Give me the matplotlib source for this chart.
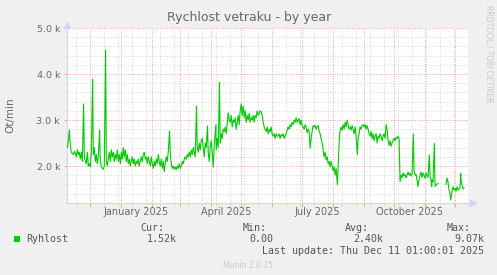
import numpy as np
import pandas as pd
import matplotlib
matplotlib.use('Agg')
import matplotlib.pyplot as plt
from matplotlib.patches import Rectangle

W, H = 497, 275

# days since 2024-11-08 and fan speed (Ot/min)
day = [0, 1, 2, 3, 4, 6, 7, 8, 9, 10, 11, 12, 13, 14, 15, 16.3, 17, 18, 19, 20,
       21, 22, 23, 24, 25.3, 26, 27, 28, 29, 30, 31, 32.3, 33, 34, 35, 36, 37, 38.3, 39, 40,
       41, 42, 43, 44, 45, 46, 47, 48, 49, 50, 51, 52, 53, 54, 55, 56, 57, 58, 59, 60,
       61, 62, 63, 64, 65, 66, 67, 68, 69, 70, 71, 72, 73, 74, 75, 76, 77, 78, 79, 80,
       81, 82, 83, 84, 85, 86, 87, 88, 89, 90, 91, 92, 93, 94, 95, 96, 97, 98, 99, 100,
       101, 102.3, 103, 104, 105, 106, 107, 108, 109, 110, 111, 112, 113, 114, 115, 116, 117, 118, 119, 120,
       121, 122, 123, 124, 125, 126, 127, 128, 129.3, 130, 131, 132, 133, 134, 135, 136, 137, 138, 139, 140.3,
       141, 142, 143, 144, 145, 146, 147, 148.7, 149, 150, 151, 152.3, 153, 154, 155, 156, 157, 158, 159, 160,
       161, 162, 163, 164, 165, 166, 167, 168, 169, 170, 171, 172, 173, 174, 175, 176, 177, 178, 179, 180,
       181, 182, 183, 184, 185, 186, 187, 188, 189, 190, 191, 192, 193, 194, 195, 196, 197, 198, 199, 200,
       201, 202, 203, 204, 205, 206, 207, 208, 209, 210, 211, 212, 213, 214, 215, 216, 217, 218, 219, 220,
       221, 222, 223, 224, 225, 226, 227, 228, 229, 230, 231, 232, 233, 234, 235, 236, 237, 238, 239, 240,
       241, 242, 243, 244, 245, 246, 247, 248, 249, 250, 251, 252, 253, 254, 255, 256, 257, 258, 259, 260,
       261, 262, 263, 264, 265, 266, 267, 268, 269, 270.3, 272.3, 273, 274, 275, 276, 277, 278, 279, 280,
       281, 282, 283, 284, 285, 286, 287, 288, 289, 290.3, 291, 292, 293, 294, 295, 296, 297, 298, 299, 300,
       301, 302, 303, 304, 305, 306, 307, 308, 309, 310, 311, 312, 313, 314, 315, 316, 317, 318, 319, 320,
       321, 322, 323, 324, 325, 326, 327, 328, 329, 330, 331, 332, 333, 334, 335, 336, 337, 338, 339, 340,
       341, 342, 343, 344, 345, 346.3, 347, 348, 349, 350, 351, 352, 353, 354, 355, 356, 357, 358, 359, 360,
       361, 362.3, 363, 364, 364.7, 365, 366, 367.3, 368, 369, 370, 371, 375,
       379, 380, 381, 382, 383, 383.7, 385, 386, 387, 388, 389, 390, 391, 392, 393, 393.7, 394, 395, 396, 397]
rpm = [2400, 2550, 2780, 2450, 2300, 2250, 2320, 2280, 2200, 2350, 2250, 2300, 2150, 2300, 2100, 3350, 2200, 2100, 2050, 2300,
       2000, 2050, 1980, 2300, 3890, 2250, 2400, 2100, 2250, 2050, 2200, 2780, 2100, 2000, 1950, 1930, 2000, 4520, 2100, 2000,
       2150, 2300, 2100, 2350, 2200, 2300, 2100, 2250, 2150, 2350, 2100, 2250, 2050, 2300, 2150, 2400, 2200, 2350, 2100, 2250,
       2050, 2150, 2000, 2100, 2200, 2050, 2150, 2000, 2100, 2050, 2150, 2000, 2100, 2200, 2100, 2250, 2300, 2150, 2200, 2050,
       2200, 2100, 2000, 2200, 2050, 1950, 2100, 2000, 2150, 2050, 2250, 2100, 2000, 2150, 1950, 2100, 1880, 2050, 2200, 2100,
       2300, 2760, 2300, 2050, 1950, 2000, 1930, 1980, 1920, 2000, 1950, 2050, 1950, 2000, 2100, 2050, 2150, 2200, 2150, 2250,
       2200, 2300, 2200, 2350, 2250, 2400, 2300, 2200, 3300, 2400, 2300, 2500, 2350, 2550, 2600, 2400, 2200, 2500, 2400, 2870,
       2300, 2100, 2400, 2550, 2300, 1970, 2450, 2900, 2350, 2600, 2400, 3820, 2500, 2700, 2600, 2800, 2750, 2850, 2700, 2900,
       3160, 3000, 2950, 3100, 2850, 3000, 2950, 3050, 2800, 2940, 3100, 2900, 3200, 3350, 3100, 3300, 3050, 3200, 2950, 3100,
       3000, 3150, 2950, 3050, 3000, 3100, 2950, 3100, 3050, 3200, 3100, 3150, 3200, 3180, 3100, 2950, 2850, 2800, 2750, 2850,
       2700, 2800, 2750, 2850, 2700, 2650, 2700, 2600, 2700, 2650, 2650, 2700, 2600, 2680, 2650, 2700, 2600, 2650, 2700, 2780,
       2850, 2800, 2900, 2850, 2950, 2900, 3000, 2950, 3050, 2950, 3000, 3030, 2900, 3000, 2880, 2850, 2800, 2900, 2850, 2720,
       2800, 2750, 2390, 2600, 2750, 2880, 2850, 2880, 2800, 2850, 2880, 2770, 2700, 2600, 2500, 2350, 2200, 2300, 2130, 2200,
       2050, 2100, 1980, 2100, 2000, 1900, 1980, 1800, 1950, 1590, 2630, 2750, 2850, 2780, 2900, 2800, 2950, 2850, 3000,
       2900, 2800, 2850, 2780, 2880, 2800, 2700, 2850, 2650, 2250, 2600, 2700, 2850, 2800, 2880, 2900, 2850, 2900, 2800, 2880,
       2800, 2700, 2650, 2750, 2600, 2700, 2550, 2650, 2700, 2500, 2650, 2600, 2700, 2650, 2550, 2650, 2700, 2600, 2900, 2800,
       2550, 2450, 2550, 2430, 2500, 2550, 2600, 2550, 2620, 2600, 2650, 2600, 1660, 1800, 1750, 1850, 1780, 1820, 1740, 1800,
       1870, 1800, 1850, 1780, 1830, 2690, 1900, 1800, 1820, 1700, 1550, 1700, 1800, 1870, 1750, 1850, 1800, 1730, 1850, 1800,
       1750, 2240, 1800, 1680, 1550, 1700, 1650, 2490, 1560, 1580, 1610, 1620, np.nan,
       1600, 1740, 1650, 1480, 1400, 1260, 1450, 1550, 1480, 1520, 1450, 1550, 1480, 1500, 1520, 1840, 1700, 1600, 1500, 1520]

month_labels = ['January 2025', 'April 2025', 'July 2025', 'October 2025']
label_dates = ['2025-01-16', '2025-04-16', '2025-07-16', '2025-10-16']
ytick_vals = [2000, 3000, 4000, 5000]
ytick_text = ['2.0 k', '3.0 k', '4.0 k', '5.0 k']
series_name = 'Ryhlost'
stat_heads = ['Cur:', 'Min:', 'Avg:', 'Max:']
stat_vals = ['1.52k', '0.00', '2.40k', '9.07k']

dates = pd.Timestamp('2024-11-08') + pd.to_timedelta(day, unit='D')
x_start = pd.Timestamp('2024-11-07 16:00')
x_end = x_start + pd.Timedelta(days=401)

txt = '#666666'
axis_col = '#CFD6F8'

fig = plt.figure(figsize=(W / 100, H / 100), dpi=100, facecolor='#F0F0F0')
ax = fig.add_axes([67 / W, 1 - 203 / H, 401 / W, 175 / H], facecolor='white')

ax.plot(dates, rpm, color='#00CC00', lw=0.8, zorder=3)
ax.set_xlim(x_start, x_end)
ax.set_ylim(1196, 5000)

# grid: months red, two weeks gray
ax.set_xticks(pd.date_range('2024-12-01', '2025-12-01', freq='MS'))
ax.set_xticks(pd.date_range('2024-11-17', '2025-12-14', freq='14D'), minor=True)
ax.set_yticks(ytick_vals)
ax.set_yticks(np.arange(1200, 5000, 200), minor=True)
ax.set_yticklabels(ytick_text)
ax.set_xticklabels([])
ax.grid(which='minor', color='#D8D8D8', lw=0.7, ls=(0, (1, 1.5)))
ax.grid(which='major', color='#F4A0A0', lw=0.7, ls=(0, (1, 1.5)))
ax.set_axisbelow(True)
ax.tick_params(axis='x', which='major', length=3, width=0.7, color='#F4A0A0')
ax.tick_params(axis='x', which='minor', length=2, width=0.7, color='#D8D8D8')
ax.tick_params(axis='y', which='major', length=2, width=0.7, color='#F4A0A0',
               labelsize=6.8, labelcolor=txt, pad=3)
ax.tick_params(axis='y', which='minor', length=0)

for s in ['top', 'right']:
    ax.spines[s].set_visible(False)
for s in ['left', 'bottom']:
    ax.spines[s].set_color(axis_col)
    ax.spines[s].set_linewidth(0.8)
ax.plot([1.012], [0], marker='>', ms=5, color=axis_col, transform=ax.transAxes, clip_on=False)
ax.plot([0], [1.02], marker='^', ms=5, color=axis_col, transform=ax.transAxes, clip_on=False)

for lab, d in zip(month_labels, label_dates):
    ax.text(pd.Timestamp(d), -0.05, lab, transform=ax.get_xaxis_transform(),
            ha='center', va='center', fontsize=7, color=txt)

def ftext(x, y, s, **kw):
    fig.text(x / W, 1 - y / H, s, **kw)

ftext(249, 18, 'Rychlost vetraku - by year', ha='center', va='center', fontsize=9, color=txt)
ftext(10.5, 115, 'Ot/min', ha='center', va='center', rotation=90, fontsize=7.5, color=txt)
ftext(488.5, 53.5, 'RRDTOOL / TOBI OETIKER', ha='center', va='center', rotation=270,
      fontsize=5.5, color='#C8C8C8')

mono = dict(family='DejaVu Sans Mono', fontsize=7.2, color='#555555', va='center')
fig.patches.append(Rectangle((14 / W, 1 - 242 / H), 6 / W, 6 / H, transform=fig.transFigure,
                             facecolor='#00CC00', edgecolor='none'))
ftext(26, 239.5, series_name, ha='left', **mono)
head_x = [140, 243, 345, 447]
val_right = [177, 273, 383, 484]
for hx, h, vr, v in zip(head_x, stat_heads, val_right, stat_vals):
    ftext(hx, 228, h, ha='left', **mono)
    ftext(vr, 239.5, v, ha='right', **mono)
ftext(484, 251, 'Last update: Thu Dec 11 01:00:01 2025', ha='right', **mono)
ftext(248, 265, 'Munin 2.0.75', ha='center', va='center', fontsize=5.5, color='#C8C8C8')

fig.savefig('out.png', dpi=100, facecolor=fig.get_facecolor())
